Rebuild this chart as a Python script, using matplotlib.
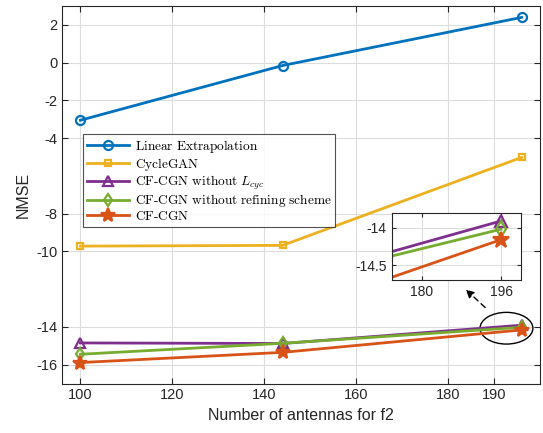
import matplotlib.pyplot as plt
from matplotlib.patches import Ellipse

plt.rcParams['font.family'] = ['Liberation Sans', 'DejaVu Sans']
plt.rcParams['mathtext.fontset'] = 'cm'
plt.rcParams['axes.unicode_minus'] = False

# antennas for f2
x = [100, 144, 196]

linear = [-3.05, -0.15, 2.4]
cyclegan = [-9.72, -9.68, -5.02]
no_lcyc = [-14.85, -14.88, -13.91]
no_refine = [-15.45, -14.87, -14.02]
cfcgn = [-15.89, -15.35, -14.16]

labels = [r'$\mathrm{Linear\ Extrapolation}$',
          r'$\mathrm{CycleGAN}$',
          r'$\mathrm{CF\text{-}CGN\ without\ }L_{cyc}$',
          r'$\mathrm{CF\text{-}CGN\ without\ refining\ scheme}$',
          r'$\mathrm{CF\text{-}CGN}$']

series = [linear, cyclegan, no_lcyc, no_refine, cfcgn]
colors = ['#0072BD', '#EDB120', '#7E2F8E', '#77AC30', '#D95319']
markers = ['o', 's', '^', 'd', '*']
msizes = [6.5, 5, 7, 6.5, 10]

xticks = [100, 120, 140, 160, 180, 190]
yticks = [-16, -14, -10, -8, -4, -2, 0, 2]

fig = plt.figure(figsize=(5.43, 4.33), dpi=100)
ax = fig.add_axes([0.1142, 0.1143, 0.8803, 0.8717])

for ys, c, m, ms, lab in zip(series, colors, markers, msizes, labels):
    fc = c if m == '*' else 'none'
    ax.plot(x, ys, color=c, lw=2, marker=m, ms=ms, mfc=fc, mec=c, mew=1.6, label=lab)

ax.set_xlim(96, 200)
ax.set_ylim(-17, 3)
ax.set_xticks(xticks)
ax.set_yticks(yticks)
ax.grid(True, color='#dddddd', lw=0.8)
ax.set_axisbelow(True)
ax.tick_params(direction='in', top=True, right=True, labelsize=10.5, colors='#262626', length=4)
for s in ax.spines.values():
    s.set_color('#262626')
ax.set_xlabel('Number of antennas for f2', fontsize=11.5, color='#262626')
ax.set_ylabel('NMSE', fontsize=11.5, color='#262626')

leg = ax.legend(loc='upper left', bbox_to_anchor=(0.043, 0.661), fontsize=9.6, frameon=True,
                fancybox=False, edgecolor='#262626', borderpad=0.3, labelspacing=0.05,
                handlelength=3.2, handletextpad=0.4, borderaxespad=0)
leg.get_frame().set_linewidth(0.8)

# zoom circle and arrow
ax.add_patch(Ellipse((192.7, -14.07), 11.5, 1.68, fill=False, ec='black', lw=1))
ax.annotate('', xy=(183.4, -11.92), xytext=(188.5, -13.07),
            arrowprops=dict(arrowstyle='-|>', color='black', lw=1, linestyle=(0, (4, 3)),
                            mutation_scale=12))

# inset
ins = fig.add_axes([0.7214, 0.3533, 0.238, 0.1554])
for ys, c, m, ms in zip(series[2:], colors[2:], markers[2:], msizes[2:]):
    fc = c if m == '*' else 'none'
    ins.plot(x, ys, color=c, lw=2, marker=m, ms=ms + 2, mfc=fc, mec=c, mew=1.6)
ins.set_xlim(174, 200)
ins.set_ylim(-14.7, -13.8)
ins.set_xticks([180, 196])
ins.set_yticks([-14.5, -14])
ins.set_yticklabels(['-14.5', '-14'])
ins.grid(True, color='#dddddd', lw=0.8)
ins.set_axisbelow(True)
ins.tick_params(direction='in', top=True, right=True, labelsize=10, colors='#262626', length=3)
for s in ins.spines.values():
    s.set_color('#262626')

fig.savefig('out.png', dpi=100)
